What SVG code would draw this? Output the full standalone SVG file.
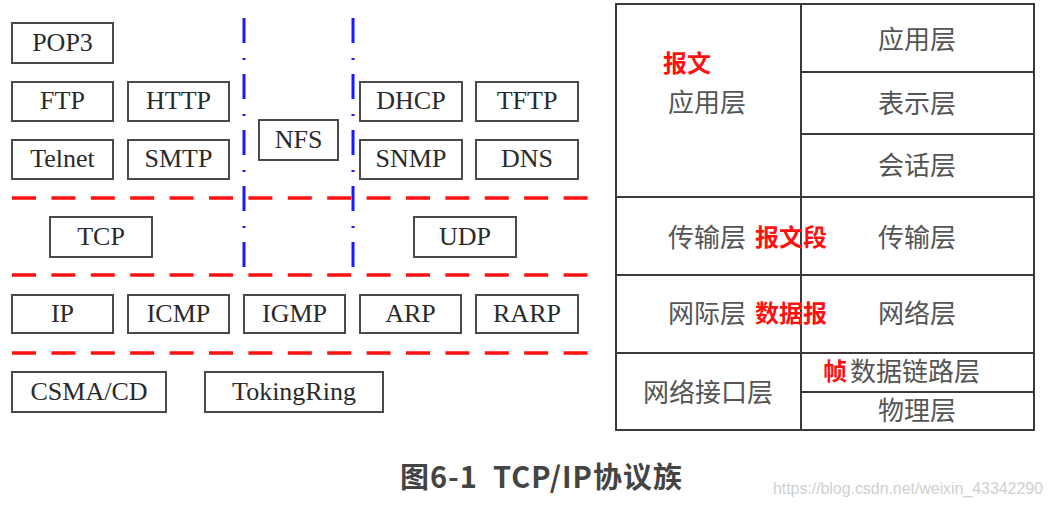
<svg xmlns="http://www.w3.org/2000/svg" width="1053" height="505" viewBox="0 0 1053 505">
<style>
.box rect{fill:#fff;stroke:#4a4a4a;stroke-width:2}
.box text{font-family:"Liberation Serif",serif;font-size:26px;fill:#2a2a2a;text-anchor:middle}
.red{stroke:#ff1010;stroke-width:3.5;stroke-dasharray:24 15.4;fill:none}
.blue{stroke:#1a1aff;stroke-width:3;stroke-dasharray:25 15 2 14;fill:none}
.tbl{stroke:#3a3a3a;stroke-width:2;fill:none}
.cn{font-family:"Noto Sans CJK SC",sans-serif;font-size:26px;fill:#555}
.cm{text-anchor:middle}
.rd{font-family:"Noto Sans CJK SC",sans-serif;font-size:24px;font-weight:bold;fill:#ff1010}
</style>
<rect width="1053" height="505" fill="#fff"/>
<g id="connectors">
<line class="red" x1="12" y1="198" x2="588" y2="198"/>
<line class="red" x1="12" y1="275" x2="588" y2="275"/>
<line class="red" x1="12" y1="353" x2="588" y2="353"/>
<line class="blue" x1="244" y1="18" x2="244" y2="268"/>
<line class="blue" x1="353" y1="18" x2="353" y2="268"/>
</g>
<g id="POP3" class="box"><rect x="12" y="23" width="101" height="40"/><text x="62.5" y="51">POP3</text></g>
<g id="FTP" class="box"><rect x="12" y="82" width="101" height="39"/><text x="62.5" y="109">FTP</text></g>
<g id="HTTP" class="box"><rect x="128" y="82" width="101" height="39"/><text x="178.5" y="109">HTTP</text></g>
<g id="Telnet" class="box"><rect x="12" y="140" width="101" height="39"/><text x="62.5" y="167">Telnet</text></g>
<g id="SMTP" class="box"><rect x="128" y="140" width="101" height="39"/><text x="178.5" y="167">SMTP</text></g>
<g id="NFS" class="box"><rect x="259" y="120" width="79" height="40"/><text x="298.5" y="148">NFS</text></g>
<g id="DHCP" class="box"><rect x="360" y="82" width="102" height="39"/><text x="411" y="109">DHCP</text></g>
<g id="TFTP" class="box"><rect x="476" y="82" width="102" height="39"/><text x="527" y="109">TFTP</text></g>
<g id="SNMP" class="box"><rect x="360" y="140" width="102" height="39"/><text x="411" y="167">SNMP</text></g>
<g id="DNS" class="box"><rect x="476" y="140" width="102" height="39"/><text x="527" y="167">DNS</text></g>
<g id="TCP" class="box"><rect x="50" y="217" width="102" height="40"/><text x="101" y="245">TCP</text></g>
<g id="UDP" class="box"><rect x="414" y="217" width="102" height="40"/><text x="465" y="245">UDP</text></g>
<g id="IP" class="box"><rect x="12" y="295" width="101" height="38"/><text x="62.5" y="322">IP</text></g>
<g id="ICMP" class="box"><rect x="128" y="295" width="101" height="38"/><text x="178.5" y="322">ICMP</text></g>
<g id="IGMP" class="box"><rect x="244" y="295" width="101" height="38"/><text x="294.5" y="322">IGMP</text></g>
<g id="ARP" class="box"><rect x="360" y="295" width="101" height="38"/><text x="410.5" y="322">ARP</text></g>
<g id="RARP" class="box"><rect x="476" y="295" width="102" height="38"/><text x="527" y="322">RARP</text></g>
<g id="CSMACD" class="box"><rect x="12" y="372" width="154" height="40"/><text x="89" y="400">CSMA/CD</text></g>
<g id="TokingRing" class="box"><rect x="205" y="372" width="178" height="40"/><text x="294" y="400">TokingRing</text></g>
<g id="table">
<rect class="tbl" x="616" y="4" width="418" height="426"/>
<line class="tbl" x1="801" y1="4" x2="801" y2="430"/>
<line class="tbl" x1="801" y1="72" x2="1034" y2="72"/>
<line class="tbl" x1="801" y1="134" x2="1034" y2="134"/>
<line class="tbl" x1="616" y1="197" x2="1034" y2="197"/>
<line class="tbl" x1="616" y1="275" x2="1034" y2="275"/>
<line class="tbl" x1="616" y1="353" x2="1034" y2="353"/>
<line class="tbl" x1="801" y1="392" x2="1034" y2="392"/>
<text class="rd" x="663" y="72">报文</text>
<text class="cn" x="668" y="112">应用层</text>
<text class="cn cm" x="917" y="49">应用层</text>
<text class="cn cm" x="917" y="113">表示层</text>
<text class="cn cm" x="917" y="175">会话层</text>
<text class="cn" x="668" y="247">传输层</text>
<text class="rd" x="755" y="246">报文段</text>
<text class="cn cm" x="917" y="247">传输层</text>
<text class="cn" x="668" y="323">网际层</text>
<text class="rd" x="755" y="322">数据报</text>
<text class="cn cm" x="917" y="323">网络层</text>
<text class="cn cm" x="708" y="402">网络接口层</text>
<text class="rd" x="823" y="380">帧</text>
<text class="cn" x="850" y="381">数据链路层</text>
<text class="cn cm" x="917" y="420">物理层</text>
</g>
<text x="400" y="488" xml:space="preserve" font-family="Noto Sans CJK SC,sans-serif" font-size="29" font-weight="bold" fill="#444" letter-spacing="1">图6-1  TCP/IP协议族</text>
<text x="773" y="494" font-family="Liberation Sans,sans-serif" font-size="16" fill="#d0d0d0" textLength="270">https://blog.csdn.net/weixin_43342290</text>
</svg>
